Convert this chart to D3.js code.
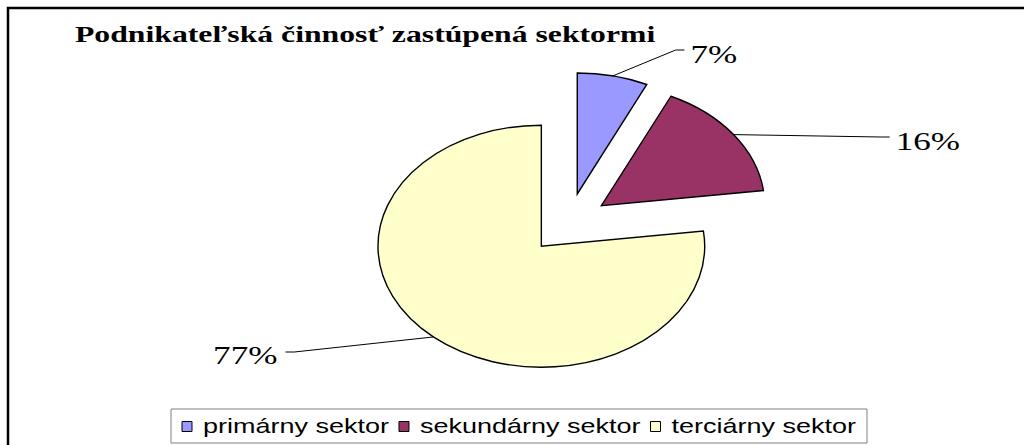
<!DOCTYPE html>
<html>
<head>
<meta charset="utf-8">
<script src="https://cdn.jsdelivr.net/npm/d3@7"></script>
<style>
  html, body { margin: 0; padding: 0; background: #fff; overflow: hidden; }
  .ns { vector-effect: non-scaling-stroke; }
</style>
</head>
<body>
<div id="graf"></div>
<script>
// Datos del grafico
var sektory = ["primárny sektor", "sekundárny sektor", "terciárny sektor"];
var hodnoty = [7, 16, 77];
var popisky = ["7%", "16%", "77%"];
var farby = ["#9999ff", "#993366", "#ffffcc"];
var nadpis = "Podnikateľská činnosť zastúpená sektormi";

// El grafico original esta estirado horizontalmente
var W = 1024, H = 445, SX = 1.35;
var R = 121, cx = 421, cy = 223.5, explode = 0.25;

var svg = d3.select("#graf").append("svg")
    .attr("width", W).attr("height", H);

// marco exterior (sale por la derecha y abajo)
svg.append("rect")
    .attr("x", 8).attr("y", 8)
    .attr("width", W + 40).attr("height", H + 40)
    .attr("fill", "#fff")
    .attr("stroke", "#000").attr("stroke-width", 2.5);

var g = svg.append("g").attr("transform", "scale(" + SX + ",1)");

g.append("text")
    .attr("x", 75 / SX).attr("y", 42.5)
    .attr("font-family", "'Liberation Serif', 'Times New Roman', serif")
    .attr("font-weight", "bold")
    .attr("font-size", 23.5)
    .text(nadpis);

// Pie
var pie = d3.pie().sort(null).value(function(d) { return d; });
var arc = d3.arc().innerRadius(0).outerRadius(R);
var kusy = pie(hodnoty);

function mid(d) { return (d.startAngle + d.endAngle) / 2; }
function posun(d) {
  var a = mid(d), e = explode * R;
  return [Math.sin(a) * e, -Math.cos(a) * e];
}

var pg = g.append("g").attr("transform", "translate(" + cx + "," + cy + ")");

pg.selectAll("path.kus")
  .data(kusy)
  .enter().append("path")
    .attr("class", "kus ns")
    .attr("transform", function(d) { var p = posun(d); return "translate(" + p[0] + "," + p[1] + ")"; })
    .attr("d", arc)
    .attr("fill", function(d, i) { return farby[i]; })
    .attr("stroke", "#000")
    .attr("stroke-width", 1.4)
    .attr("stroke-linejoin", "miter");

// Etiquetas: punto final de la linea respecto al centro (px sin estirar)
var konce = [[86, -173.5], [238, -86.5], [-209.5, 128.5]];
var lakt = 6.5;

kusy.forEach(function(d, i) {
  var p = posun(d), a = mid(d);
  var sx0 = p[0] + Math.sin(a) * R, sy0 = p[1] - Math.cos(a) * R;
  var k = konce[i];
  var vpravo = k[0] > 0;
  var ex = vpravo ? k[0] - lakt : k[0] + lakt;
  pg.append("polyline")
    .attr("class", "ns")
    .attr("points", [[sx0, sy0], [ex, k[1]], [k[0], k[1]]].map(function(q) { return q.join(","); }).join(" "))
    .attr("fill", "none")
    .attr("stroke", "#000")
    .attr("stroke-width", 1);
  pg.append("text")
    .attr("x", vpravo ? k[0] + 4.5 : k[0] - 6)
    .attr("y", k[1] + 12.5)
    .attr("text-anchor", vpravo ? "start" : "end")
    .attr("font-family", "'Liberation Serif', 'Times New Roman', serif")
    .attr("font-size", 26)
    .text(popisky[i]);
});

// Leyenda
var lx = 171 / SX, ly = 409, lh = 34, pad = 11 / SX, sq = 10, medz = 11 / SX, gap = 10 / SX;
var leg = g.append("g");
var box = leg.append("rect")
    .attr("class", "ns")
    .attr("x", lx).attr("y", ly).attr("height", lh)
    .attr("fill", "#fff")
    .attr("stroke", "#808080").attr("stroke-width", 1);

var x = lx + pad;
sektory.forEach(function(s, i) {
  leg.append("rect")
    .attr("class", "ns")
    .attr("x", x).attr("y", ly + 12.5)
    .attr("width", sq / SX).attr("height", sq)
    .attr("fill", farby[i])
    .attr("stroke", "#000").attr("stroke-width", 1);
  x += sq / SX + medz;
  var t = leg.append("text")
    .attr("x", x).attr("y", ly + 24.5)
    .attr("font-family", "'Liberation Sans', Arial, sans-serif")
    .attr("font-size", 20)
    .text(s);
  x += t.node().getComputedTextLength();
  if (i < sektory.length - 1) x += gap;
});
box.attr("width", x + pad - lx);
</script>
</body>
</html>
